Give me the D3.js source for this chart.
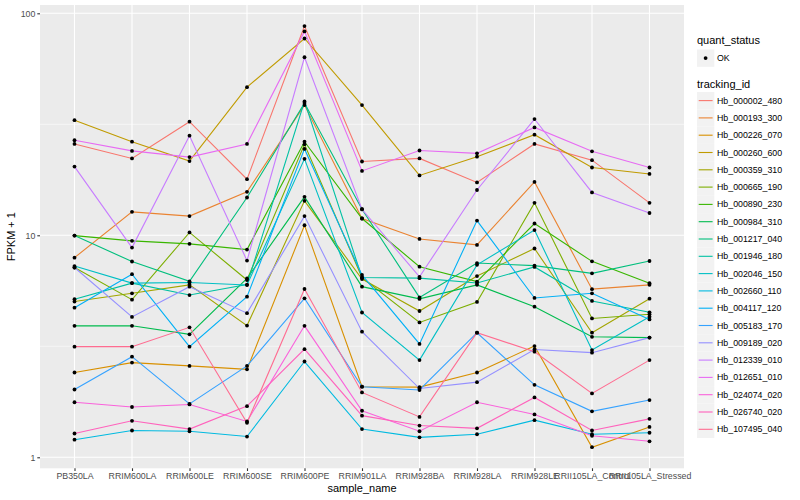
<!DOCTYPE html>
<html>
<head>
<meta charset="utf-8">
<script src="https://cdn.jsdelivr.net/npm/d3@7"></script>
<style>
  body { margin: 0; background: #fff; }
  svg { font-family: "Liberation Sans", Arial, sans-serif; }
</style>
</head>
<body>
<svg id="chart" width="800" height="500"></svg>
<script>
// Samples along x
const samples = ['PB350LA', 'RRIM600LA', 'RRIM600LE', 'RRIM600SE', 'RRIM600PE', 'RRIM901LA',
    'RRIM928BA', 'RRIM928LA', 'RRIM928LE', 'RRII105LA_Control', 'RRII105LA_Stressed'];

const trackingIds = ['Hb_000002_480', 'Hb_000193_300', 'Hb_000226_070', 'Hb_000260_600', 'Hb_000359_310',
    'Hb_000665_190', 'Hb_000890_230', 'Hb_000984_310', 'Hb_001217_040', 'Hb_001946_180',
    'Hb_002046_150', 'Hb_002660_110', 'Hb_004117_120', 'Hb_005183_170', 'Hb_009189_020',
    'Hb_012339_010', 'Hb_012651_010', 'Hb_024074_020', 'Hb_026740_020', 'Hb_107495_040'];

// FPKM + 1, one array per tracking id
const hb000002 = [25.8, 22.2, 32.5, 17.9, 87.6, 21.5, 22.2, 17.3, 25.8, 21.8, 14.0];
const hb000193 = [7.93, 12.75, 12.2, 15.7, 38.6, 11.9, 9.63, 9.05, 17.4, 5.72, 5.98];
const hb000226 = [2.41, 2.67, 2.58, 2.49, 11.1, 2.08, 2.07, 2.41, 3.17, 1.11, 1.37];
const hb000260 = [33.0, 26.4, 21.6, 46.5, 77.0, 38.6, 18.6, 22.6, 28.4, 20.2, 18.9];
const hb000359 = [5.03, 5.48, 5.98, 3.92, 14.3, 6.35, 4.56, 6.55, 8.72, 3.64, 5.18];
const hb000665 = [7.16, 5.13, 10.3, 6.29, 25.7, 6.45, 4.05, 5.01, 14.0, 4.22, 4.41];
const hb000890 = [9.97, 9.44, 9.15, 8.62, 26.4, 11.9, 7.22, 6.19, 11.3, 7.63, 6.08];
const hb000984 = [3.91, 3.91, 3.58, 6.39, 14.9, 5.87, 5.17, 5.98, 4.77, 3.49, 3.46];
const hb001217 = [9.97, 7.62, 6.2, 14.8, 39.4, 13.1, 5.25, 7.5, 7.3, 6.74, 7.66];
const hb001946 = [5.15, 6.09, 5.38, 6.0, 40.1, 6.45, 6.41, 6.1, 7.2, 5.06, 4.5];
const hb002046 = [7.27, 6.09, 6.13, 5.97, 22.1, 4.49, 2.74, 7.36, 10.56, 3.04, 4.3];
const hb002660 = [1.20, 1.32, 1.31, 1.24, 2.70, 1.34, 1.23, 1.27, 1.47, 1.27, 1.29];
const hb004117 = [4.72, 6.68, 3.15, 5.29, 24.5, 6.63, 3.24, 11.65, 5.22, 5.48, 4.18];
const hb005183 = [2.02, 2.84, 1.74, 2.58, 5.2, 2.08, 2.01, 3.64, 2.12, 1.61, 1.81];
const hb009189 = [7.16, 4.29, 5.87, 4.46, 12.2, 3.68, 2.04, 2.18, 3.06, 2.96, 3.46];
const hb012339 = [20.4, 8.8, 28.1, 7.69, 63.4, 13.1, 6.5, 16.0, 33.4, 15.6, 12.6];
const hb012651 = [26.8, 24.0, 22.5, 25.8, 82.9, 19.5, 24.1, 23.4, 30.6, 23.9, 20.2];
const hb024074 = [1.77, 1.685, 1.73, 1.45, 3.91, 1.62, 1.31, 1.77, 1.56, 1.25, 1.18];
const hb026740 = [1.28, 1.46, 1.34, 1.70, 3.07, 1.54, 1.39, 1.35, 1.86, 1.32, 1.49];
const hb107495 = [3.15, 3.15, 3.85, 1.43, 5.73, 1.96, 1.52, 3.64, 2.99, 1.94, 2.74];

const seriesValues = [hb000002, hb000193, hb000226, hb000260, hb000359, hb000665, hb000890,
    hb000984, hb001217, hb001946, hb002046, hb002660, hb004117, hb005183, hb009189,
    hb012339, hb012651, hb024074, hb026740, hb107495];

const yTicks = [1, 10, 100];
const yMinor = [Math.sqrt(10), Math.sqrt(1000)];

// ggplot hue palette, 20 levels
const palette = ['#F8766D', '#EA8331', '#D89000', '#C09B00', '#A3A500', '#7CAE00', '#39B600',
    '#00BB4E', '#00BF7D', '#00C1A3', '#00BFC4', '#00BAE0', '#00B0F6', '#35A2FF', '#9590FF',
    '#C77CFF', '#E76BF3', '#FA62DB', '#FF62BC', '#FF6C91'];

const panel = { left: 40, right: 684, top: 5, bottom: 468.3 };

const svg = d3.select('#chart');

const x = d3.scalePoint()
    .domain(samples)
    .range([panel.left, panel.right])
    .padding(0.6);

const y = d3.scaleLog()
    .domain([0.892, 109])
    .range([panel.bottom, panel.top]);

const color = d3.scaleOrdinal().domain(trackingIds).range(palette);

// Panel background
svg.append('rect')
    .attr('x', panel.left).attr('y', panel.top)
    .attr('width', panel.right - panel.left)
    .attr('height', panel.bottom - panel.top)
    .attr('fill', '#EBEBEB');

// Grid
const grid = svg.append('g');
grid.selectAll('line.minor')
    .data(yMinor)
    .join('line')
    .attr('x1', panel.left).attr('x2', panel.right)
    .attr('y1', d => y(d)).attr('y2', d => y(d))
    .attr('stroke', '#fff').attr('stroke-width', 0.55);
grid.selectAll('line.majy')
    .data(yTicks)
    .join('line')
    .attr('x1', panel.left).attr('x2', panel.right)
    .attr('y1', d => y(d)).attr('y2', d => y(d))
    .attr('stroke', '#fff').attr('stroke-width', 1.1);
grid.selectAll('line.majx')
    .data(samples)
    .join('line')
    .attr('x1', d => x(d)).attr('x2', d => x(d))
    .attr('y1', panel.top).attr('y2', panel.bottom)
    .attr('stroke', '#fff').attr('stroke-width', 1.1);

// Lines
const series = trackingIds.map((id, i) => ({
    id,
    points: samples.map((s, j) => ({ sample: s, value: seriesValues[i][j] }))
}));

const line = d3.line()
    .x(d => x(d.sample))
    .y(d => y(d.value));

svg.append('g')
    .selectAll('path')
    .data(series)
    .join('path')
    .attr('d', d => line(d.points))
    .attr('fill', 'none')
    .attr('stroke', d => color(d.id))
    .attr('stroke-width', 1.1);

// Points
svg.append('g')
    .selectAll('circle')
    .data(series.flatMap(s => s.points))
    .join('circle')
    .attr('cx', d => x(d.sample))
    .attr('cy', d => y(d.value))
    .attr('r', 1.9)
    .attr('fill', '#000');

// Axes
const xAxis = svg.append('g')
    .attr('transform', `translate(0,${panel.bottom})`)
    .call(d3.axisBottom(x).tickSize(2.7).tickPadding(2));
const yAxis = svg.append('g')
    .attr('transform', `translate(${panel.left},0)`)
    .call(d3.axisLeft(y).tickValues(yTicks).tickFormat(d3.format('d')).tickSize(2.7).tickPadding(2));

[xAxis, yAxis].forEach(ax => {
    ax.select('.domain').remove();
    ax.selectAll('.tick line').attr('stroke', '#333').attr('stroke-width', 1.1);
    ax.selectAll('.tick text')
        .attr('fill', '#4D4D4D')
        .style('font-size', '8.8px')
        .style('font-family', '"Liberation Sans", Arial, sans-serif');
});

// Axis titles
svg.append('text')
    .attr('x', (panel.left + panel.right) / 2)
    .attr('y', 492)
    .attr('text-anchor', 'middle')
    .style('font-size', '11px')
    .text('sample_name');

svg.append('text')
    .attr('transform', `translate(15,${(panel.top + panel.bottom) / 2}) rotate(-90)`)
    .attr('text-anchor', 'middle')
    .style('font-size', '11px')
    .text('FPKM + 1');

// Legend: quant_status
const legend = svg.append('g').attr('transform', 'translate(697,0)');
legend.append('text')
    .attr('x', 0).attr('y', 44)
    .style('font-size', '11px')
    .text('quant_status');
legend.append('rect')
    .attr('x', 0).attr('y', 49.5)
    .attr('width', 17.3).attr('height', 17.3)
    .attr('fill', '#F2F2F2');
legend.append('circle')
    .attr('cx', 8.6).attr('cy', 58.1)
    .attr('r', 1.9).attr('fill', '#000');
legend.append('text')
    .attr('x', 20).attr('y', 61.2)
    .style('font-size', '8.8px')
    .text('OK');

// Legend: tracking_id
legend.append('text')
    .attr('x', 0).attr('y', 88)
    .style('font-size', '11px')
    .text('tracking_id');

const keys = legend.append('g')
    .selectAll('g')
    .data(trackingIds)
    .join('g')
    .attr('transform', (d, i) => `translate(0,${92 + i * 17.3})`);

keys.append('rect')
    .attr('width', 17.3).attr('height', 17.3)
    .attr('fill', '#F2F2F2');
keys.append('line')
    .attr('x1', 1.7).attr('x2', 15.6)
    .attr('y1', 8.6).attr('y2', 8.6)
    .attr('stroke', d => color(d))
    .attr('stroke-width', 1.1);
keys.append('text')
    .attr('x', 20).attr('y', 11.7)
    .style('font-size', '8.8px')
    .text(d => d);
</script>
</body>
</html>
